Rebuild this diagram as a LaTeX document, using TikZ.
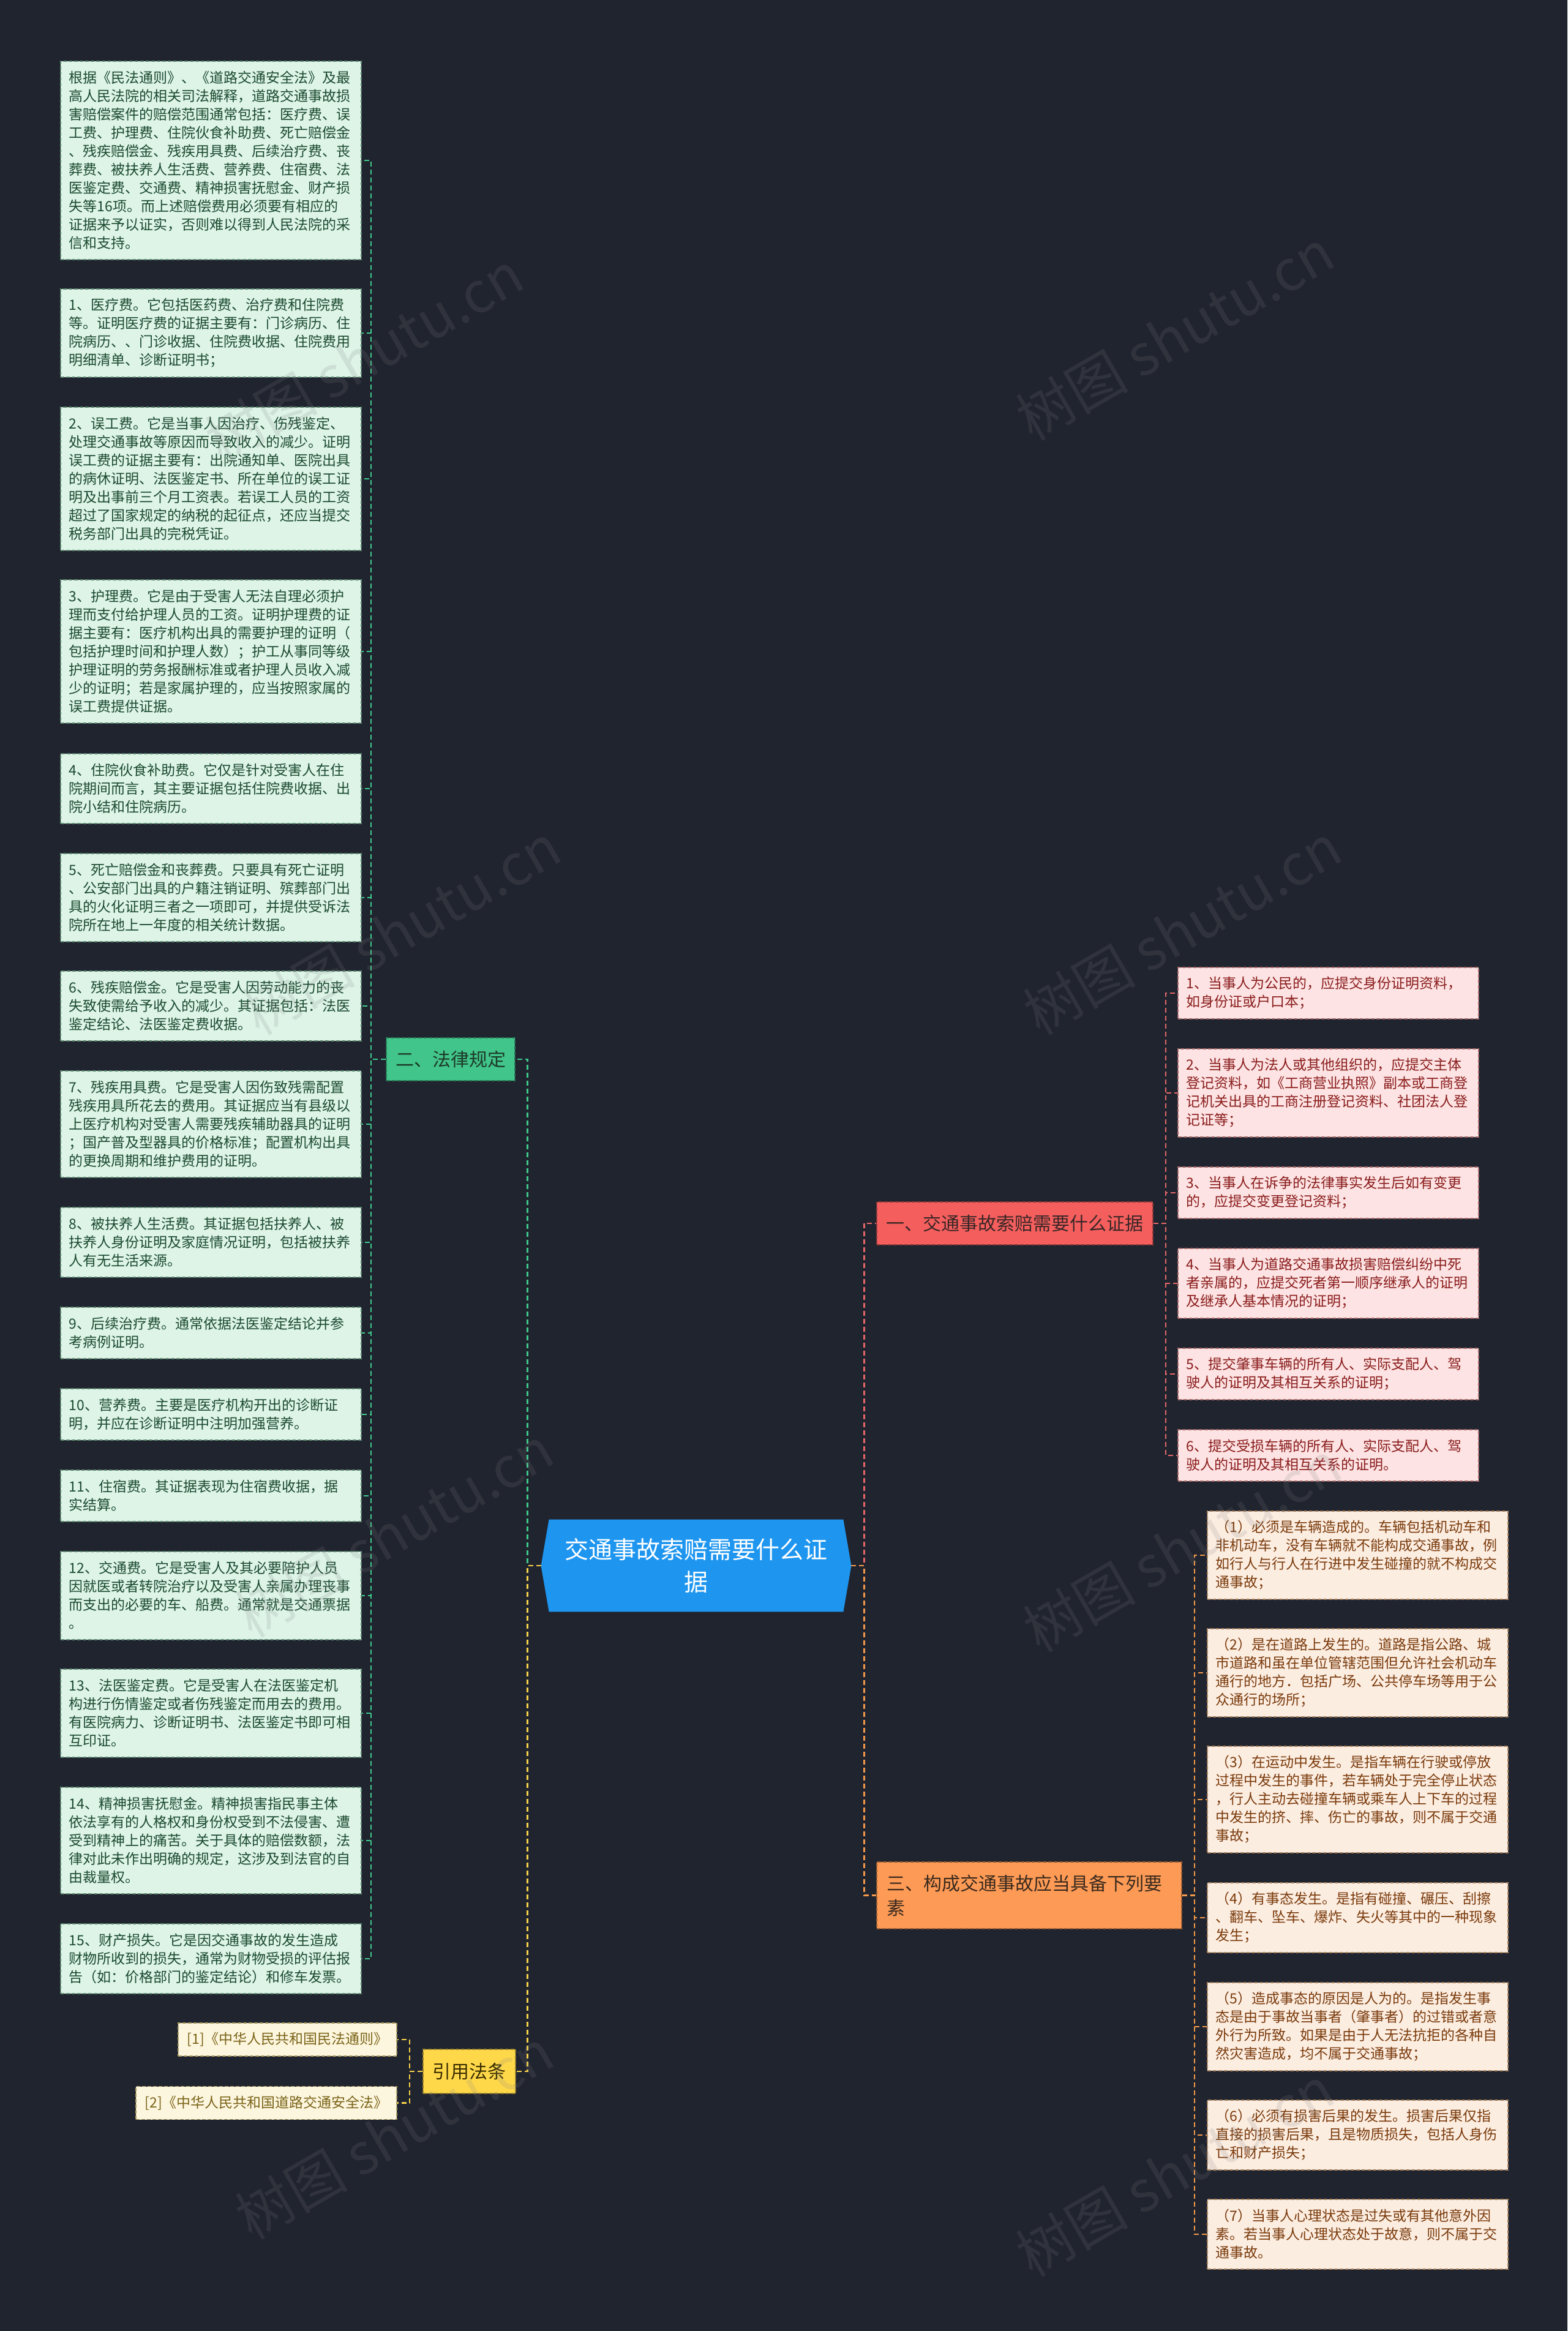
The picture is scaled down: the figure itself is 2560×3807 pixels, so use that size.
\documentclass[tikz,border=0pt]{standalone}
\usepackage{fontspec}
\setmainfont{Noto Sans CJK SC}
\usetikzlibrary{calc}
\definecolor{bg}{HTML}{20242F}
\definecolor{gfill}{HTML}{DDF4E7}
\definecolor{gborder}{HTML}{5E8A72}
\definecolor{gtext}{HTML}{1C4A30}
\definecolor{pfill}{HTML}{FDE3E3}
\definecolor{pborder}{HTML}{A86A6A}
\definecolor{ptext}{HTML}{8A1C1C}
\definecolor{ofill}{HTML}{FCEDE1}
\definecolor{oborder}{HTML}{A8825E}
\definecolor{otext}{HTML}{7A3B0C}
\definecolor{yfill}{HTML}{FDF6DF}
\definecolor{yborder}{HTML}{A89A5E}
\definecolor{ytext}{HTML}{7A6418}
\definecolor{lawfill}{HTML}{42C58A}
\definecolor{lawtext}{HTML}{1C3A2A}
\definecolor{onefill}{HTML}{F45F5E}
\definecolor{onetext}{HTML}{3A2626}
\definecolor{threefill}{HTML}{FD9A55}
\definecolor{threetext}{HTML}{3A2A1E}
\definecolor{citefill}{HTML}{FFD84A}
\definecolor{citetext}{HTML}{3A2E00}
\definecolor{rootfill}{HTML}{1E96F0}
\definecolor{gline}{HTML}{3EC98C}
\definecolor{yline}{HTML}{F5D24A}
\definecolor{rline}{HTML}{E86868}
\definecolor{oline}{HTML}{F59A4A}
\newcommand\myfs[2]{\fontsize{#1}{#2}\selectfont}
\tikzset{
  box/.style={anchor=north west, rectangle, dash pattern=on 3pt off 1.5pt, line width=0.8pt,
    minimum width=245.5pt, text width=231.5pt, inner xsep=7pt, inner ysep=0pt,
    align=left, font=\myfs{11.5}{15}},
  nlines/.style={minimum height={15pt*#1+12pt}},
  gbox/.style={box, fill=gfill, draw=gborder, text=gtext},
  pbox/.style={box, fill=pfill, draw=pborder, text=ptext},
  obox/.style={box, fill=ofill, draw=oborder, text=otext},
  ybox/.style={anchor=east, rectangle, dash pattern=on 3pt off 1.5pt, line width=0.8pt,
    fill=yfill, draw=yborder, text=ytext, inner xsep=7.5pt, inner ysep=0pt,
    minimum height=27pt, font=\myfs{11.5}{15}},
  mainnode/.style={rectangle, dash pattern=on 3pt off 1.5pt, line width=0.8pt, inner sep=0pt,
    font=\myfs{15}{20}},
  conn/.style={line width=1.2pt, dash pattern=on 4pt off 2.5pt},
  wm/.style={font=\myfs{46}{46}, text=gray, opacity=0.17, rotate=30}
}
\begin{document}
\begin{tikzpicture}[x=0.5pt,y=-0.5pt]
\useasboundingbox (0,0) rectangle (2560,3807);
\fill[bg] (0,0) rectangle (2560,3807);

% root
\node[minimum width=253pt, minimum height=75pt, inner sep=0pt] (root) at (1137,2557) {};
\fill[rootfill] (root.west) -- ([xshift=6.5pt]root.north west) -- ([xshift=-6.5pt]root.north east)
  -- (root.east) -- ([xshift=-6.5pt]root.south east) -- ([xshift=6.5pt]root.south west) -- cycle;
\node[text=white, font=\myfs{19.5}{26.5}, align=center] (roottxt) at (root.center) {交通事故索赔需要什么证\\据};

% level 1
\node[mainnode, fill=lawfill, draw=lawfill!60!black, text=lawtext, minimum width=105pt, minimum height=35pt] (law) at (736,1730) {二、法律规定};
\node[mainnode, fill=onefill, draw=onefill!60!black, text=onetext, minimum width=225.5pt, minimum height=35pt] (one) at (1657.5,1998) {一、交通事故索赔需要什么证据};
\node[mainnode, fill=threefill, draw=threefill!60!black, text=threetext, minimum width=249pt, minimum height=54.5pt, text width=233pt, inner xsep=8pt, align=left] (three) at (1681,3095.5) {三、构成交通事故应当具备下列要\\素};
\node[mainnode, fill=citefill, draw=citefill!60!black, text=citetext, minimum width=75.5pt, minimum height=36pt] (cite) at (766.5,3383) {引用法条};

% left boxes
\node[gbox,nlines=10] (L0) at (98,99) {根据《民法通则》、《道路交通安全法》及最\\高人民法院的相关司法解释，道路交通事故损\\害赔偿案件的赔偿范围通常包括：医疗费、误\\工费、护理费、住院伙食补助费、死亡赔偿金\\、残疾赔偿金、残疾用具费、后续治疗费、丧\\葬费、被扶养人生活费、营养费、住宿费、法\\医鉴定费、交通费、精神损害抚慰金、财产损\\失等16项。而上述赔偿费用必须要有相应的\\证据来予以证实，否则难以得到人民法院的采\\信和支持。};
\node[gbox,nlines=4] (L1) at (98,471) {1、医疗费。它包括医药费、治疗费和住院费\\等。证明医疗费的证据主要有：门诊病历、住\\院病历、、门诊收据、住院费收据、住院费用\\明细清单、诊断证明书；};
\node[gbox,nlines=7] (L2) at (98,664) {2、误工费。它是当事人因治疗、伤残鉴定、\\处理交通事故等原因而导致收入的减少。证明\\误工费的证据主要有：出院通知单、医院出具\\的病休证明、法医鉴定书、所在单位的误工证\\明及出事前三个月工资表。若误工人员的工资\\超过了国家规定的纳税的起征点，还应当提交\\税务部门出具的完税凭证。};
\node[gbox,nlines=7] (L3) at (98,946) {3、护理费。它是由于受害人无法自理必须护\\理而支付给护理人员的工资。证明护理费的证\\据主要有：医疗机构出具的需要护理的证明（\\包括护理时间和护理人数）；护工从事同等级\\护理证明的劳务报酬标准或者护理人员收入减\\少的证明；若是家属护理的，应当按照家属的\\误工费提供证据。};
\node[gbox,nlines=3] (L4) at (98,1230) {4、住院伙食补助费。它仅是针对受害人在住\\院期间而言，其主要证据包括住院费收据、出\\院小结和住院病历。};
\node[gbox,nlines=4] (L5) at (98,1393) {5、死亡赔偿金和丧葬费。只要具有死亡证明\\、公安部门出具的户籍注销证明、殡葬部门出\\具的火化证明三者之一项即可，并提供受诉法\\院所在地上一年度的相关统计数据。};
\node[gbox,nlines=3] (L6) at (98,1585) {6、残疾赔偿金。它是受害人因劳动能力的丧\\失致使需给予收入的减少。其证据包括：法医\\鉴定结论、法医鉴定费收据。};
\node[gbox,nlines=5] (L7) at (98,1748) {7、残疾用具费。它是受害人因伤致残需配置\\残疾用具所花去的费用。其证据应当有县级以\\上医疗机构对受害人需要残疾辅助器具的证明\\；国产普及型器具的价格标准；配置机构出具\\的更换周期和维护费用的证明。};
\node[gbox,nlines=3] (L8) at (98,1971) {8、被扶养人生活费。其证据包括扶养人、被\\扶养人身份证明及家庭情况证明，包括被扶养\\人有无生活来源。};
\node[gbox,nlines=2] (L9) at (98,2134) {9、后续治疗费。通常依据法医鉴定结论并参\\考病例证明。};
\node[gbox,nlines=2] (L10) at (98,2267) {10、营养费。主要是医疗机构开出的诊断证\\明，并应在诊断证明中注明加强营养。};
\node[gbox,nlines=2] (L11) at (98,2400) {11、住宿费。其证据表现为住宿费收据，据\\实结算。};
\node[gbox,nlines=4] (L12) at (98,2533) {12、交通费。它是受害人及其必要陪护人员\\因就医或者转院治疗以及受害人亲属办理丧事\\而支出的必要的车、船费。通常就是交通票据\\。};
\node[gbox,nlines=4] (L13) at (98,2725) {13、法医鉴定费。它是受害人在法医鉴定机\\构进行伤情鉴定或者伤残鉴定而用去的费用。\\有医院病力、诊断证明书、法医鉴定书即可相\\互印证。};
\node[gbox,nlines=5] (L14) at (98,2918) {14、精神损害抚慰金。精神损害指民事主体\\依法享有的人格权和身份权受到不法侵害、遭\\受到精神上的痛苦。关于具体的赔偿数额，法\\律对此未作出明确的规定，这涉及到法官的自\\由裁量权。};
\node[gbox,nlines=3] (L15) at (98,3141) {15、财产损失。它是因交通事故的发生造成\\财物所收到的损失，通常为财物受损的评估报\\告（如：价格部门的鉴定结论）和修车发票。};

% pink boxes
\node[pbox,nlines=2] (P1) at (1923,1579) {1、当事人为公民的，应提交身份证明资料，\\如身份证或户口本；};
\node[pbox,nlines=4] (P2) at (1923,1712) {2、当事人为法人或其他组织的，应提交主体\\登记资料，如《工商营业执照》副本或工商登\\记机关出具的工商注册登记资料、社团法人登\\记证等；};
\node[pbox,nlines=2] (P3) at (1923,1905) {3、当事人在诉争的法律事实发生后如有变更\\的，应提交变更登记资料；};
\node[pbox,nlines=3] (P4) at (1923,2038) {4、当事人为道路交通事故损害赔偿纠纷中死\\者亲属的，应提交死者第一顺序继承人的证明\\及继承人基本情况的证明；};
\node[pbox,nlines=2] (P5) at (1923,2201) {5、提交肇事车辆的所有人、实际支配人、驾\\驶人的证明及其相互关系的证明；};
\node[pbox,nlines=2] (P6) at (1923,2334) {6、提交受损车辆的所有人、实际支配人、驾\\驶人的证明及其相互关系的证明。};

% orange boxes
\node[obox,nlines=4] (O1) at (1971,2467) {（1）必须是车辆造成的。车辆包括机动车和\\非机动车，没有车辆就不能构成交通事故，例\\如行人与行人在行进中发生碰撞的就不构成交\\通事故；};
\node[obox,nlines=4] (O2) at (1971,2659) {（2）是在道路上发生的。道路是指公路、城\\市道路和虽在单位管辖范围但允许社会机动车\\通行的地方．包括广场、公共停车场等用于公\\众通行的场所；};
\node[obox,nlines=5] (O3) at (1971,2851) {（3）在运动中发生。是指车辆在行驶或停放\\过程中发生的事件，若车辆处于完全停止状态\\，行人主动去碰撞车辆或乘车人上下车的过程\\中发生的挤、摔、伤亡的事故，则不属于交通\\事故；};
\node[obox,nlines=3] (O4) at (1971,3074) {（4）有事态发生。是指有碰撞、碾压、刮擦\\、翻车、坠车、爆炸、失火等其中的一种现象\\发生；};
\node[obox,nlines=4] (O5) at (1971,3237) {（5）造成事态的原因是人为的。是指发生事\\态是由于事故当事者（肇事者）的过错或者意\\外行为所致。如果是由于人无法抗拒的各种自\\然灾害造成，均不属于交通事故；};
\node[obox,nlines=3] (O6) at (1971,3429) {（6）必须有损害后果的发生。损害后果仅指\\直接的损害后果，且是物质损失，包括人身伤\\亡和财产损失；};
\node[obox,nlines=3] (O7) at (1971,3591) {（7）当事人心理状态是过失或有其他意外因\\素。若当事人心理状态处于故意，则不属于交\\通事故。};

% references
\node[ybox] (R1) at (649,3331) {[1]《中华人民共和国民法通则》};
\node[ybox] (R2) at (649,3434.5) {[2]《中华人民共和国道路交通安全法》};

% connectors root
\draw[conn, gline] (root.west) -- ++(-22,0) |- (law.east);
\draw[conn, yline] (root.west) -- ++(-22,0) |- (cite.east);
\draw[conn, rline] (root.east) -- ++(21,0) |- (one.west);
\draw[conn, oline] (root.east) -- ++(21,0) |- (three.west);

% children connectors
\foreach \i in {0,...,15} {\draw[conn, gline] (law.west) -- ++(-24,0) |- (L\i.east);}
\foreach \i in {1,...,6} {\draw[conn, rline] (one.east) -- ++(20,0) |- (P\i.west);}
\foreach \i in {1,...,7} {\draw[conn, oline] (three.east) -- ++(20,0) |- (O\i.west);}
\foreach \i in {1,2} {\draw[conn, yline] (cite.west) -- ++(-21,0) |- (R\i.east);}

% watermarks
\node[wm] (w1) at (595,583) {树图 shutu.cn};
\node[wm] (w2) at (1919,547) {树图 shutu.cn};
\node[wm] (w3) at (656,1518) {树图 shutu.cn};
\node[wm] (w4) at (1931,1518) {树图 shutu.cn};
\node[wm] (w5) at (644,2502) {树图 shutu.cn};
\node[wm] (w6) at (1931,2526) {树图 shutu.cn};
\node[wm] (w7) at (644,3485) {树图 shutu.cn};
\node[wm] (w8) at (1919,3546) {树图 shutu.cn};
\end{tikzpicture}
\end{document}
